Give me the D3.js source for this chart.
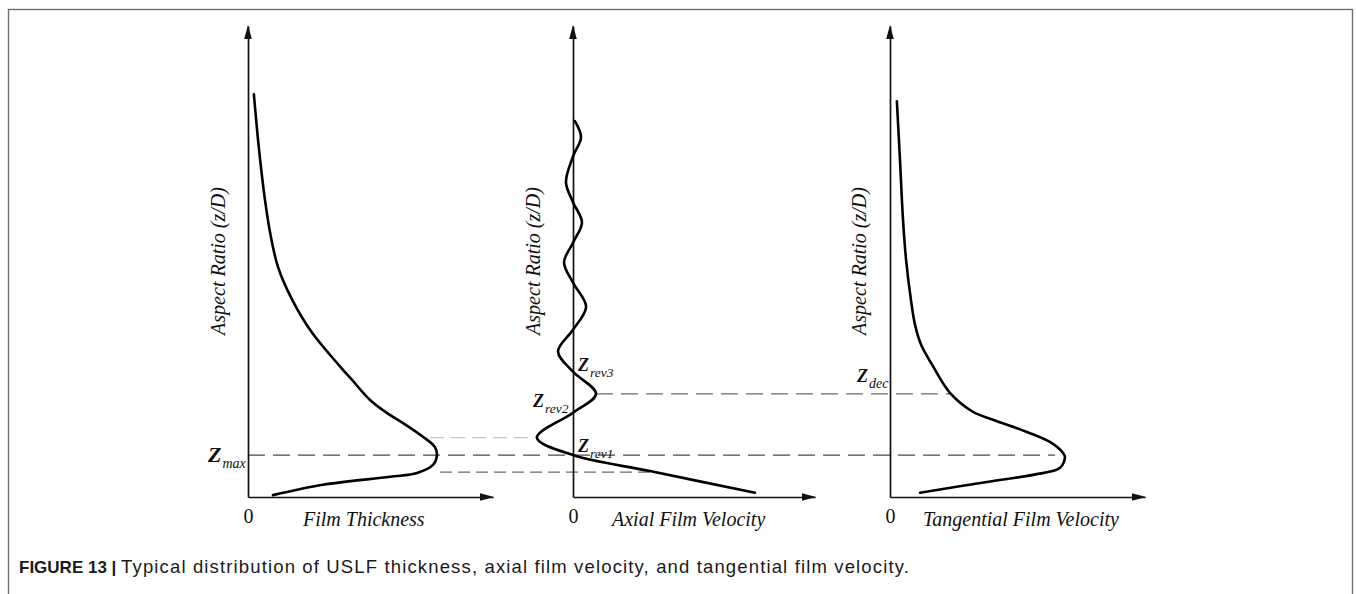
<!DOCTYPE html>
<html>
<head>
<meta charset="utf-8">
<script src="https://cdn.jsdelivr.net/npm/d3@7"></script>
<style>
  html, body { margin: 0; padding: 0; background: #fff; }
  svg { display: block; }
</style>
</head>
<body>
<svg id="fig" width="1356" height="594"></svg>
<script>
// ---- Profiles along the swirl tube (normalised value vs. aspect ratio z/D) ----
const thicknessValue = [0.024, 0.045, 0.069, 0.090, 0.122, 0.180, 0.261, 0.376, 0.424, 0.498, 0.571, 0.633, 0.714, 0.763, 0.771, 0.755, 0.690, 0.580, 0.306, 0.102];
const thicknessZ     = [0.855, 0.738, 0.632, 0.562, 0.489, 0.419, 0.349, 0.277, 0.249, 0.206, 0.177, 0.157, 0.128, 0.106, 0.089, 0.068, 0.051, 0.043, 0.026, 0.004];

const axialValue = [0.008, 0.033, 0.000, -0.029, 0.000, 0.037, 0.000, -0.037, 0.000, 0.054, 0.000, -0.062, 0.000, 0.095, 0.000, -0.149, 0.000, 0.318, 0.752];
const axialZ     = [0.798, 0.764, 0.723, 0.668, 0.626, 0.583, 0.540, 0.498, 0.455, 0.404, 0.355, 0.309, 0.266, 0.219, 0.179, 0.126, 0.089, 0.055, 0.009];

const tangentialValue = [0.027, 0.039, 0.051, 0.063, 0.082, 0.098, 0.122, 0.165, 0.235, 0.325, 0.404, 0.537, 0.627, 0.678, 0.686, 0.667, 0.561, 0.380, 0.118];
const tangentialZ     = [0.840, 0.717, 0.589, 0.504, 0.419, 0.366, 0.323, 0.281, 0.221, 0.181, 0.164, 0.138, 0.117, 0.094, 0.085, 0.062, 0.047, 0.032, 0.009];

// Characteristic heights (z/D)
const zMax  = 0.089;   // thickest film, first axial reversal
const zRev2 = 0.179;
const zRev3 = 0.266;
const zDec  = 0.219;   // tangential velocity starts to decay
const zLow  = 0.053;
const zHigh = 0.126;

// Text
const xTitles    = ["Film Thickness", "Axial Film Velocity", "Tangential Film Velocity"];
const yTitle     = "Aspect Ratio (z/D)";
const tickLabels = ["0"];
const caption    = ["FIGURE 13 | ", "Typical distribution of USLF thickness, axial film velocity, and tangential film velocity."];

// ---- Layout ----
const serif = "'Liberation Serif', 'Times New Roman', serif";
const sans  = "'Liberation Sans', Arial, Helvetica, sans-serif";
const svg = d3.select("#fig");

svg.append("rect")
  .attr("x", 8.5).attr("y", 9.5).attr("width", 1344).attr("height", 600)
  .attr("fill", "none").attr("stroke", "#6f6f6f").attr("stroke-width", 1.4);

const zScale = d3.scaleLinear().domain([0, 1]).range([497, 26]);

const panels = [
  { x0: 248, len: 245, value: thicknessValue,  z: thicknessZ,  title: xTitles[0], titleX: 303, yTitleX: 218 },
  { x0: 573, len: 242, value: axialValue,      z: axialZ,      title: xTitles[1], titleX: 612, yTitleX: 533 },
  { x0: 890, len: 255, value: tangentialValue, z: tangentialZ, title: xTitles[2], titleX: 923, yTitleX: 859 }
];
panels.forEach(p => { p.x = d3.scaleLinear().domain([0, 1]).range([p.x0, p.x0 + p.len]); });

// ---- Dashed guide lines linking the panels ----
const guides = [
  { z: zMax,  from: [0, 0.0],   to: [2, 0.647], color: "#4a4a4a", dash: "17,8" },
  { z: zDec,  from: [1, 0.095], to: [2, 0.235], color: "#6a6a6a", dash: "17,8" },
  { z: zHigh, from: [0, 0.743], to: [1, -0.149], color: "#c4c4c4", dash: "14,7" },
  { z: zLow,  from: [0, 0.784], to: [1, 0.318], color: "#6a6a6a", dash: "12,6" }
];
svg.append("g").selectAll("line").data(guides).join("line")
  .attr("x1", d => panels[d.from[0]].x(d.from[1]))
  .attr("x2", d => panels[d.to[0]].x(d.to[1]))
  .attr("y1", d => zScale(d.z)).attr("y2", d => zScale(d.z))
  .attr("stroke", d => d.color).attr("stroke-width", 1.3)
  .attr("stroke-dasharray", d => d.dash);

// ---- Axes, arrows, titles and curves ----
panels.forEach(p => {
  const g = svg.append("g");

  const yAxis = g.append("g").attr("transform", `translate(${p.x0},0)`)
    .call(d3.axisLeft(zScale).tickValues([]).tickSizeOuter(0));
  yAxis.select(".domain").attr("stroke", "#111").attr("stroke-width", 1.7);

  const xAxis = g.append("g").attr("transform", `translate(0,${zScale(0)})`)
    .call(d3.axisBottom(p.x).tickValues([0]).tickSize(0).tickSizeOuter(0).tickPadding(12).tickFormat(() => tickLabels[0]));
  xAxis.select(".domain").attr("stroke", "#111").attr("stroke-width", 1.7);
  xAxis.selectAll(".tick text")
    .attr("font-family", serif).attr("font-size", 20).attr("fill", "#111");

  // arrowheads
  const tipY = zScale(1), tipX = p.x(1);
  g.append("path")
    .attr("d", `M${p.x0},${tipY - 1} L${p.x0 - 3.8},${tipY + 13} L${p.x0 + 3.8},${tipY + 13} Z`)
    .attr("fill", "#111");
  g.append("path")
    .attr("d", `M${tipX + 1},${zScale(0)} L${tipX - 13},${zScale(0) - 3.8} L${tipX - 13},${zScale(0) + 3.8} Z`)
    .attr("fill", "#111");

  // titles
  g.append("text")
    .attr("x", p.titleX).attr("y", 526)
    .attr("font-family", serif).attr("font-style", "italic").attr("font-size", 20)
    .attr("fill", "#111").text(p.title);

  g.append("text")
    .attr("transform", `translate(${p.yTitleX},261) rotate(-90)`)
    .attr("text-anchor", "middle").attr("dominant-baseline", "central")
    .attr("font-family", serif).attr("font-style", "italic").attr("font-size", 20)
    .attr("fill", "#111").text(yTitle);

  // profile curve
  const pts = p.value.map((v, i) => [v, p.z[i]]);
  g.append("path")
    .datum(pts)
    .attr("fill", "none").attr("stroke", "#000").attr("stroke-width", 2.6)
    .attr("stroke-linecap", "round").attr("stroke-linejoin", "round")
    .attr("d", d3.line().x(d => p.x(d[0])).y(d => zScale(d[1])).curve(d3.curveCatmullRom.alpha(0.5)));
});

// ---- Characteristic-height labels ----
const zLabels = [
  { sub: "max",  panel: 0, dx: -40, z: zMax,  dy: 7,   size: 22, subSize: 14 },
  { sub: "rev1", panel: 1, dx: 5,   z: zMax,  dy: -3,  size: 18, subSize: 13.5 },
  { sub: "rev2", panel: 1, dx: -40, z: zRev2, dy: -6,  size: 18, subSize: 13.5 },
  { sub: "rev3", panel: 1, dx: 5,   z: zRev3, dy: -1,  size: 18, subSize: 13.5 },
  { sub: "dec",  panel: 2, dx: -33, z: zDec,  dy: -12, size: 18, subSize: 14 }
];
zLabels.forEach(l => {
  const t = svg.append("text")
    .attr("x", panels[l.panel].x0 + l.dx)
    .attr("y", zScale(l.z) + l.dy)
    .attr("font-family", serif).attr("fill", "#111");
  t.append("tspan").attr("font-weight", "bold").attr("font-style", "italic")
    .attr("font-size", l.size).text("Z");
  t.append("tspan").attr("font-style", "italic").attr("font-size", l.subSize)
    .attr("dx", 1).attr("dy", 6).text(l.sub);
});

// ---- Caption ----
const cap = svg.append("text").attr("x", 19).attr("y", 573)
  .attr("font-family", sans).attr("fill", "#1a1a1a");
cap.append("tspan").attr("font-weight", "bold").attr("font-size", 17).text(caption[0]);
const capBody = cap.append("tspan").attr("font-size", 18.5).text(caption[1]);
// spread the body text so the caption runs out to the right edge of the figure text block
const bodyStart = cap.node().getBBox().x + cap.node().getBBox().width - capBody.node().getComputedTextLength();
const bodyWidth = capBody.node().getComputedTextLength();
const extra = (910 - bodyStart - bodyWidth) / caption[1].length;
capBody.attr("letter-spacing", Math.max(0, extra));
</script>
</body>
</html>
